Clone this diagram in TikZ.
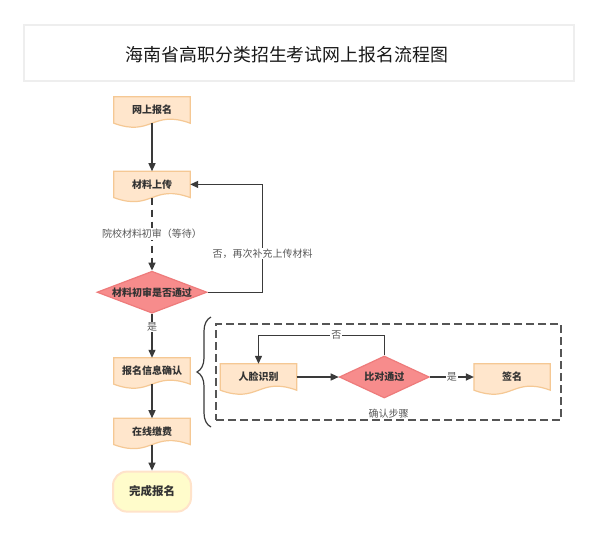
\documentclass[tikz,border=0pt]{standalone}
\usepackage{fontspec}
\setmainfont{Noto Sans CJK SC}
\usetikzlibrary{calc,arrows.meta,positioning,shapes.geometric,backgrounds,decorations.pathreplacing}
\definecolor{docfill}{HTML}{FFE6CC}
\definecolor{docline}{HTML}{F5C894}
\definecolor{decfill}{HTML}{F78C8C}
\definecolor{decline}{HTML}{EE7B7B}
\definecolor{termfill}{HTML}{FFFCCB}
\definecolor{termline}{HTML}{FFE3CA}
\definecolor{linegray}{HTML}{3A3A3A}
\definecolor{boxgray}{HTML}{555555}
\definecolor{lblgray}{HTML}{595959}
\definecolor{nodetext}{HTML}{333333}
\definecolor{titleline}{HTML}{EEEEEE}
\begin{document}
\begin{tikzpicture}[x=1pt,y=-1pt,>={Triangle[length=8pt,width=7pt]},
  doc/.style={minimum width=76pt,minimum height=26pt,inner sep=0pt,font=\bfseries\fontsize{10}{12}\selectfont,text=nodetext},
  decision/.style={diamond,shape aspect=2.6,inner sep=0pt,draw=decline,fill=decfill,line width=1.2pt,font=\bfseries\fontsize{10}{12}\selectfont,text=nodetext},
  terminal/.style={rounded corners=14pt,draw=termline,fill=termfill,line width=2pt,minimum width=78pt,minimum height=40pt,font=\bfseries\fontsize{11.5}{13}\selectfont,text=nodetext},
  line/.style={draw=linegray,line width=1.3pt,->},
  lbl/.style={font=\fontsize{10}{12}\selectfont,text=lblgray,fill=white,inner sep=1pt}]

  \useasboundingbox (0,0) rectangle (598,547);

  \node[draw=titleline,line width=1.2pt,minimum width=550pt,minimum height=56pt] (titlebox) at (299,53) {};
  \node[font=\fontsize{17.9}{20}\selectfont,text=black!90] (title) at (287,55) {海南省高职分类招生考试网上报名流程图};

  \node[doc] (web) at (152,110) {网上报名};
  \node[doc] (upload) [below=48pt of web] {材料上传};
  \node[decision,minimum width=110pt,minimum height=42pt] (check) [below=73pt of upload] {材料初审是否通过};
  \node[doc] (confirm) [below=44pt of check] {报名信息确认};
  \node[doc] (pay) [below=34pt of confirm] {在线缴费};
  \node[terminal] (done) [below=26pt of pay] {完成报名};

  \node[draw=boxgray,line width=1.3pt,dash pattern=on 8pt off 4pt,minimum width=345pt,minimum height=96pt] (steps) at (388.5,372) {};
  \node[lbl,fill=none] (stepslabel) [above=1pt of steps.south] {确认步骤};
  \node[doc] (face) at (258.5,377) {人脸识别};
  \node[decision,minimum width=90pt,minimum height=42pt] (compare) [right=42pt of face] {比对通过};
  \node[doc] (sign) [right=44pt of compare] {签名};

  \coordinate (bracebot) at (211,427);
  \coordinate (bracetop) at (211,317);
  \draw[linegray,line width=1.2pt,decorate,decoration={brace,amplitude=14pt}] (bracebot) -- (bracetop);

  \begin{scope}[on background layer]
    \fill[white] (0,0) rectangle (598,547);
    \foreach \n in {web,upload,confirm,pay,face,sign}
      \draw[draw=docline,fill=docfill,line width=1.2pt] (\n.north west) -- (\n.north east) -- (\n.south east)
        .. controls ([yshift=14pt]\n.south) and ([yshift=-14pt]\n.south) .. (\n.south west) -- cycle;
  \end{scope}

  \draw[line] (web) -- (upload);
  \draw[line,dash pattern=on 7pt off 5pt] (upload) -- node[lbl] {院校材料初审（等待）} (check);
  \draw[line] (check.east) -- ++(55,0) |- node[lbl,pos=0.18] {否，再次补充上传材料} (upload.east);
  \draw[line] (check) -- node[lbl,pos=0.3] {是} (confirm);
  \draw[line] (confirm) -- (pay);
  \draw[line] (pay) -- (done);

  \draw[line] (face) -- (compare);
  \draw[line] (compare) -- node[lbl] {是} (sign);
  \draw[line] (compare.north) -- ++(0,-20) -| node[lbl,pos=0.19] {否} (face.north);

\end{tikzpicture}
\end{document}
